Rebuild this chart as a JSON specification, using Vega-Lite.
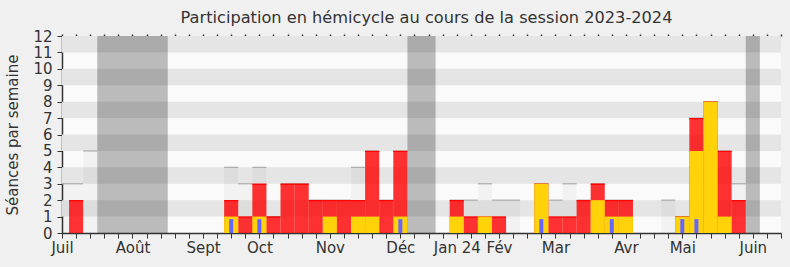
{
  "$schema": "https://vega.github.io/schema/vega-lite/v6.json",
  "width": 719,
  "height": 197,
  "autosize": "none",
  "padding": {"left": 62, "top": 36, "right": 9, "bottom": 34},
  "background": "#f0f0f0",
  "config": {
    "view": {"fill": "#fafafa", "stroke": null},
    "font": "DejaVu Sans",
    "scale": {"continuousPadding": 0},
    "axisX": {"title": null, "grid": false, "domainColor": "#333333", "domainWidth": 1.5, "tickColor": "#333333", "tickSize": 5,
      "labelFontSize": 15, "labelColor": "#333333", "labelPadding": 2, "labelOverlap": false, "labelFlush": false},
    "axisY": {"grid": false, "domainColor": "#333333", "domainWidth": 1.5, "tickColor": "#333333", "tickSize": 5,
      "labelFontSize": 15, "labelColor": "#333333", "labelPadding": 5, "labelOverlap": false,
      "titleFontSize": 15, "titleFontWeight": "normal", "titleColor": "#333333", "titlePadding": 12}
  },
  "title": {"text": "Participation en hémicycle au cours de la session 2023-2024", "fontSize": 16.2, "fontWeight": "normal", "color": "#333333", "anchor": "middle", "offset": 3, "dx": 5},
  "resolve": {"axis": {"x": "independent"}},
  "datasets": {
    "stripes": [{"lo": 1, "hi": 2}, {"lo": 3, "hi": 4}, {"lo": 5, "hi": 6}, {"lo": 7, "hi": 8}, {"lo": 9, "hi": 10}, {"lo": 11, "hi": 12}],
    "vac": [{"start": 2.5, "end": 7.5}, {"start": 24.5, "end": 26.5}, {"start": 48.5, "end": 49.5}],
    "weeks": [
      {"week": 0, "cap": 3, "pres": 0, "intv": 0, "q": 0},
      {"week": 1, "cap": 3, "pres": 2, "intv": 0, "q": 0},
      {"week": 2, "cap": 5, "pres": 0, "intv": 0, "q": 0},
      {"week": 8, "cap": 0, "pres": 0, "intv": 0, "q": 0},
      {"week": 9, "cap": 0, "pres": 0, "intv": 0, "q": 0},
      {"week": 10, "cap": 0, "pres": 0, "intv": 0, "q": 0},
      {"week": 11, "cap": 0, "pres": 0, "intv": 0, "q": 0},
      {"week": 12, "cap": 4, "pres": 2, "intv": 1, "q": 1},
      {"week": 13, "cap": 3, "pres": 1, "intv": 0, "q": 0},
      {"week": 14, "cap": 4, "pres": 3, "intv": 1, "q": 1},
      {"week": 15, "cap": 1, "pres": 1, "intv": 0, "q": 0},
      {"week": 16, "cap": 3, "pres": 3, "intv": 0, "q": 0},
      {"week": 17, "cap": 3, "pres": 3, "intv": 0, "q": 0},
      {"week": 18, "cap": 2, "pres": 2, "intv": 0, "q": 0},
      {"week": 19, "cap": 2, "pres": 2, "intv": 1, "q": 0},
      {"week": 20, "cap": 2, "pres": 2, "intv": 0, "q": 0},
      {"week": 21, "cap": 4, "pres": 2, "intv": 1, "q": 0},
      {"week": 22, "cap": 5, "pres": 5, "intv": 1, "q": 0},
      {"week": 23, "cap": 2, "pres": 2, "intv": 0, "q": 0},
      {"week": 24, "cap": 5, "pres": 5, "intv": 1, "q": 1},
      {"week": 27, "cap": 0, "pres": 0, "intv": 0, "q": 0},
      {"week": 28, "cap": 2, "pres": 2, "intv": 1, "q": 0},
      {"week": 29, "cap": 2, "pres": 1, "intv": 0, "q": 0},
      {"week": 30, "cap": 3, "pres": 1, "intv": 1, "q": 0},
      {"week": 31, "cap": 2, "pres": 1, "intv": 0, "q": 0},
      {"week": 32, "cap": 2, "pres": 0, "intv": 0, "q": 0},
      {"week": 33, "cap": 0, "pres": 0, "intv": 0, "q": 0},
      {"week": 34, "cap": 3, "pres": 3, "intv": 3, "q": 1},
      {"week": 35, "cap": 2, "pres": 1, "intv": 0, "q": 0},
      {"week": 36, "cap": 3, "pres": 1, "intv": 0, "q": 0},
      {"week": 37, "cap": 2, "pres": 2, "intv": 0, "q": 0},
      {"week": 38, "cap": 3, "pres": 3, "intv": 2, "q": 0},
      {"week": 39, "cap": 2, "pres": 2, "intv": 1, "q": 1},
      {"week": 40, "cap": 2, "pres": 2, "intv": 1, "q": 0},
      {"week": 41, "cap": 0, "pres": 0, "intv": 0, "q": 0},
      {"week": 42, "cap": 0, "pres": 0, "intv": 0, "q": 0},
      {"week": 43, "cap": 2, "pres": 0, "intv": 0, "q": 0},
      {"week": 44, "cap": 1, "pres": 1, "intv": 1, "q": 1},
      {"week": 45, "cap": 7, "pres": 7, "intv": 5, "q": 1},
      {"week": 46, "cap": 8, "pres": 8, "intv": 8, "q": 0},
      {"week": 47, "cap": 5, "pres": 5, "intv": 1, "q": 0},
      {"week": 48, "cap": 3, "pres": 2, "intv": 0, "q": 0},
      {"week": 50, "cap": 0, "pres": 0, "intv": 0, "q": 0},
      {"week": 51, "cap": 0, "pres": 0, "intv": 0, "q": 0}
    ]
  },
  "layer": [
    {
      "data": {"name": "stripes"},
      "mark": {"type": "rect", "color": "#e5e5e5"},
      "encoding": {
        "y": {"field": "lo", "type": "quantitative",
          "scale": {"domain": [0, 12], "nice": false, "zero": true, "padding": 0},
          "axis": {"title": "Séances par semaine", "values": [0,1,2,3,4,5,6,7,8,9,10,11,12]}},
        "y2": {"field": "hi"}
      }
    },
    {
      "data": {"name": "vac"},
      "mark": {"type": "rect", "color": "#000000", "opacity": 0.25},
      "encoding": {
        "x": {"field": "start", "type": "quantitative",
          "scale": {"domain": [0, 51], "nice": false, "zero": false, "padding": 0},
          "axis": {"orient": "top", "values": [0,1,2,3,4,5,6,7,8,9,10,11,12,13,14,15,16,17,18,19,20,21,22,23,24,25,26,27,28,29,30,31,32,33,34,35,36,37,38,39,40,41,42,43,44,45,46,47,48,49,50,51],
            "labels": false, "domain": false, "tickSize": 2, "tickWidth": 1.5, "tickColor": "#333333"}},
        "x2": {"field": "end"}
      }
    },
    {
      "data": {"name": "weeks"},
      "encoding": {
        "x": {"field": "week", "type": "quantitative",
          "scale": {"domain": [0, 51], "nice": false, "zero": false, "padding": 0},
          "axis": {"orient": "bottom", "values": [0,1,2,3,4,5,6,7,8,9,10,11,12,13,14,15,16,17,18,19,20,21,22,23,24,25,26,27,28,29,30,31,32,33,34,35,36,37,38,39,40,41,42,43,44,45,46,47,48,49,50,51],
            "labelExpr": "datum.value==0?'Juil':datum.value==5?'Août':datum.value==10?'Sept':datum.value==14?'Oct':datum.value==19?'Nov':datum.value==24?'Déc':datum.value==28?'Jan 24':datum.value==31?'Fév':datum.value==35?'Mar':datum.value==40?'Avr':datum.value==44?'Mai':datum.value==49?'Juin':''",
            "encode": {"labels": {"update": {"dx": {"signal": "datum.value==31?5:datum.value==35?5:datum.value==44?6:datum.value==14?2:datum.value==40?0:datum.value==49?1:datum.value==24?1.5:datum.value==19?1:datum.value==5?-1.5:0"}}}}}}
      },
      "layer": [
        {
          "transform": [{"filter": "datum.cap > 0"}],
          "mark": {"type": "bar", "color": "#000000", "opacity": 0.03, "width": 14.1, "clip": true},
          "encoding": {"y": {"field": "cap", "type": "quantitative", "scale": {"domain": [0, 12], "nice": false, "zero": true, "padding": 0}, "axis": {"title": "Séances par semaine", "values": [0,1,2,3,4,5,6,7,8,9,10,11,12]}}}
        },
        {
          "transform": [{"filter": "datum.cap > 0"}],
          "mark": {"type": "tick", "orient": "horizontal", "color": "#aaaaaa", "size": 14.1, "thickness": 1.2, "opacity": 1, "clip": true},
          "encoding": {"y": {"field": "cap", "type": "quantitative", "scale": {"domain": [0, 12], "nice": false, "zero": true, "padding": 0}, "axis": {"title": "Séances par semaine", "values": [0,1,2,3,4,5,6,7,8,9,10,11,12]}}}
        },
        {
          "transform": [{"filter": "datum.pres > 0"}],
          "mark": {"type": "bar", "color": "#ff0000", "opacity": 0.8, "width": 14.1, "clip": true},
          "encoding": {"y": {"field": "pres", "type": "quantitative", "scale": {"domain": [0, 12], "nice": false, "zero": true, "padding": 0}, "axis": {"title": "Séances par semaine", "values": [0,1,2,3,4,5,6,7,8,9,10,11,12]}}}
        },
        {
          "transform": [{"filter": "datum.pres > 0"}],
          "mark": {"type": "tick", "orient": "horizontal", "color": "#ff0000", "size": 14.1, "thickness": 1.2, "opacity": 1, "yOffset": 0.5, "clip": true},
          "encoding": {"y": {"field": "pres", "type": "quantitative", "scale": {"domain": [0, 12], "nice": false, "zero": true, "padding": 0}, "axis": {"title": "Séances par semaine", "values": [0,1,2,3,4,5,6,7,8,9,10,11,12]}}}
        },
        {
          "transform": [{"filter": "datum.intv > 0"}],
          "mark": {"type": "bar", "color": "#ffd20a", "opacity": 1, "width": 14.1, "clip": true},
          "encoding": {"y": {"field": "intv", "type": "quantitative", "scale": {"domain": [0, 12], "nice": false, "zero": true, "padding": 0}, "axis": {"title": "Séances par semaine", "values": [0,1,2,3,4,5,6,7,8,9,10,11,12]}}}
        },
        {
          "transform": [{"filter": "datum.q > 0"}],
          "mark": {"type": "bar", "color": "#6666ff", "opacity": 1, "width": 4, "yOffset": 2.5, "clip": true},
          "encoding": {"y": {"field": "q", "type": "quantitative", "scale": {"domain": [0, 12], "nice": false, "zero": true, "padding": 0}, "axis": {"title": "Séances par semaine", "values": [0,1,2,3,4,5,6,7,8,9,10,11,12]}}}
        }
      ]
    }
  ]
}
